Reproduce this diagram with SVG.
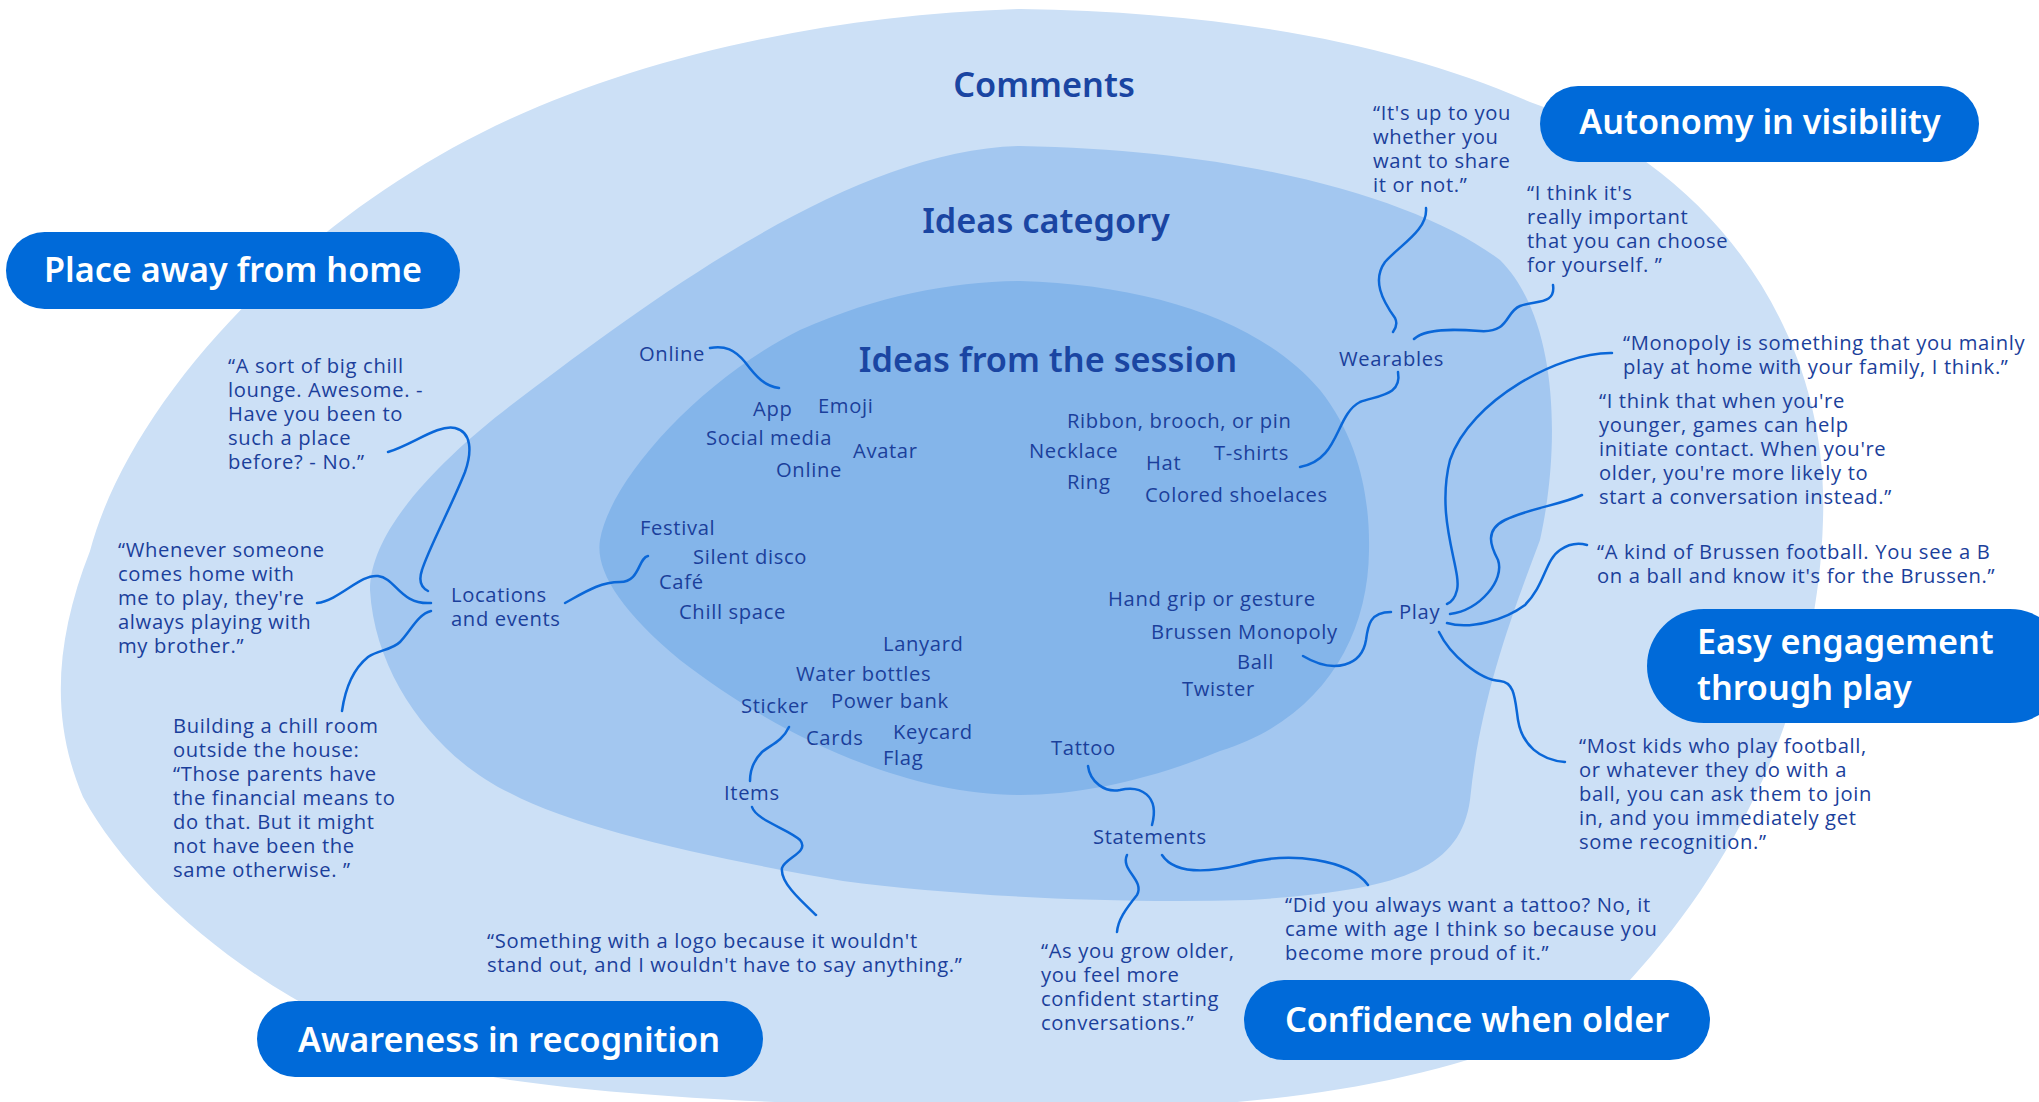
<svg xmlns="http://www.w3.org/2000/svg" width="2039" height="1102" viewBox="0 0 2039 1102">
<style>
.t{font-family:"Open Sans","Noto Sans","Liberation Sans",sans-serif;font-size:20.2px;letter-spacing:0.65px;fill:#1b3f9b}
.h{font-family:"Noto Sans","Open Sans","Liberation Sans",sans-serif;font-size:34.3px;font-weight:600;fill:#1a45a2;text-anchor:middle}
.pt{font-family:"Noto Sans","Open Sans","Liberation Sans",sans-serif;font-size:34.2px;font-weight:600;fill:#ffffff}
.pill{fill:#006ad9}
.c{fill:none;stroke:#0a67d8;stroke-width:2.5;stroke-linecap:round}
</style>
<rect width="2039" height="1102" fill="#ffffff"/>
<g id="zones">
<path id="zone-comments" fill="#cce0f6" d="M1020,9 C1230,12 1400,45 1530,102 C1700,160 1830,320 1823,520 C1818,700 1740,860 1630,980 C1520,1070 1300,1108 1100,1108 C850,1108 650,1100 510,1080 C330,1050 150,920 83,797 C50,720 55,640 90,551 C130,400 300,215 510,119 C650,55 830,15 1020,9 Z"/>
<path id="zone-category" fill="#a3c7f0" d="M1020,146 C1250,150 1420,200 1500,260 C1560,320 1560,450 1540,540 C1510,620 1480,700 1470,800 C1460,870 1400,890 1250,900 C1100,904 950,895 843,881 C720,860 580,830 510,793 C440,760 375,680 370,590 C370,530 440,460 510,406 C650,300 850,150 1020,146 Z"/>
<path id="zone-session" fill="#84b5ea" d="M1020,281 C1150,285 1260,320 1320,390 C1360,440 1370,500 1369,551 C1368,640 1320,720 1220,751 C1150,780 1080,795 1020,795 C900,795 770,730 680,660 C620,610 595,570 600,540 C610,480 700,380 800,330 C880,295 950,282 1020,281 Z"/>
</g>
<g id="titles">
<text class="h" x="1044" y="97">Comments</text>
<text class="h" x="1046" y="233">Ideas category</text>
<text class="h" x="1048" y="372">Ideas from the session</text>
</g>
<g id="connectors">
<path class="c" d="M388,452 C412,445 438,424 455,428 C472,432 472,452 465,472 C452,505 428,550 422,570 C418,582 422,588 428,591"/>
<path class="c" d="M317,603 C340,600 360,574 378,576 C396,578 400,605 431,603"/>
<path class="c" d="M431,611 C418,614 410,632 400,642 C392,650 378,650 368,657 C352,670 345,690 342,711"/>
<path class="c" d="M565,603 C585,592 600,582 620,582 C640,582 638,558 648,556"/>
<path class="c" d="M710,348 C725,345 735,350 745,362 C757,378 765,386 779,388"/>
<path class="c" d="M789,727 C782,742 770,745 762,752 C752,762 750,772 750,781"/>
<path class="c" d="M752,807 C756,820 790,830 800,840 C810,852 785,858 782,868 C780,882 800,900 816,915"/>
<path class="c" d="M1426,208 C1428,230 1400,245 1385,262 C1372,280 1382,300 1395,318 C1398,324 1396,328 1393,332"/>
<path class="c" d="M1414,339 C1425,328 1455,329 1480,331 C1510,333 1505,312 1520,306 C1535,300 1556,305 1553,285"/>
<path class="c" d="M1398,372 C1402,395 1380,395 1360,402 C1335,415 1340,460 1300,467"/>
<path class="c" d="M1612,353 C1560,352 1470,400 1450,460 C1435,520 1462,570 1457,590 C1455,598 1452,602 1447,604"/>
<path class="c" d="M1582,495 C1560,505 1530,508 1505,520 C1485,530 1490,545 1498,560 C1505,580 1480,610 1450,614"/>
<path class="c" d="M1447,623 C1470,630 1505,620 1525,605 C1545,585 1545,560 1560,550 C1570,543 1580,543 1587,545"/>
<path class="c" d="M1439,632 C1450,655 1480,680 1500,681 C1515,682 1515,700 1518,720 C1522,745 1540,760 1565,762"/>
<path class="c" d="M1391,612 C1370,612 1368,625 1366,640 C1362,665 1335,675 1303,656"/>
<path class="c" d="M1088,766 C1090,782 1105,793 1120,790 C1140,785 1160,795 1152,825"/>
<path class="c" d="M1127,855 C1120,870 1145,880 1137,895 C1125,910 1118,920 1117,932"/>
<path class="c" d="M1162,855 C1175,875 1210,872 1240,865 C1290,850 1350,860 1368,885"/>
</g>
<g id="pill-place"><rect class="pill" x="6" y="232" width="454" height="77" rx="38.5"/><text class="pt" x="233" y="282" text-anchor="middle">Place away from home</text></g>
<g id="pill-autonomy"><rect class="pill" x="1540" y="86" width="439" height="76" rx="38"/><text class="pt" x="1760" y="134" text-anchor="middle">Autonomy in visibility</text></g>
<g id="pill-easy"><rect class="pill" x="1647" y="609" width="420" height="114" rx="57"/><text class="pt" x="1697" y="654">Easy engagement</text><text class="pt" x="1697" y="700">through play</text></g>
<g id="pill-awareness"><rect class="pill" x="257" y="1001" width="506" height="76" rx="38"/><text class="pt" x="509" y="1052" text-anchor="middle">Awareness in recognition</text></g>
<g id="pill-confidence"><rect class="pill" x="1244" y="980" width="466" height="80" rx="40"/><text class="pt" x="1477" y="1032" text-anchor="middle">Confidence when older</text></g>
<g id="q-chill"><text class="t" x="228" y="373">“A sort of big chill<tspan x="228" y="397">lounge. Awesome. -</tspan><tspan x="228" y="421">Have you been to</tspan><tspan x="228" y="445">such a place</tspan><tspan x="228" y="469">before? - No.”</tspan></text></g>
<g id="q-whenever"><text class="t" x="118" y="557">“Whenever someone<tspan x="118" y="581">comes home with</tspan><tspan x="118" y="605">me to play, they're</tspan><tspan x="118" y="629">always playing with</tspan><tspan x="118" y="653">my brother.”</tspan></text></g>
<g id="q-building"><text class="t" x="173" y="733">Building a chill room<tspan x="173" y="757">outside the house:</tspan><tspan x="173" y="781">“Those parents have</tspan><tspan x="173" y="805">the financial means to</tspan><tspan x="173" y="829">do that. But it might</tspan><tspan x="173" y="853">not have been the</tspan><tspan x="173" y="877">same otherwise. ”</tspan></text></g>
<g id="n-locations"><text class="t" x="451" y="602">Locations<tspan x="451" y="626">and events</tspan></text></g>
<g id="n-online-top"><text class="t" x="639" y="361">Online</text></g>
<g id="n-app"><text class="t" x="753" y="416">App</text></g>
<g id="n-emoji"><text class="t" x="818" y="413">Emoji</text></g>
<g id="n-social"><text class="t" x="706" y="445">Social media</text></g>
<g id="n-avatar"><text class="t" x="853" y="458">Avatar</text></g>
<g id="n-online"><text class="t" x="776" y="477">Online</text></g>
<g id="n-festival"><text class="t" x="640" y="535">Festival</text></g>
<g id="n-silent"><text class="t" x="693" y="564">Silent disco</text></g>
<g id="n-cafe"><text class="t" x="659" y="589">Café</text></g>
<g id="n-chill"><text class="t" x="679" y="619">Chill space</text></g>
<g id="n-lanyard"><text class="t" x="883" y="651">Lanyard</text></g>
<g id="n-water"><text class="t" x="796" y="681">Water bottles</text></g>
<g id="n-sticker"><text class="t" x="741" y="713">Sticker</text></g>
<g id="n-power"><text class="t" x="831" y="708">Power bank</text></g>
<g id="n-cards"><text class="t" x="806" y="745">Cards</text></g>
<g id="n-keycard"><text class="t" x="893" y="739">Keycard</text></g>
<g id="n-flag"><text class="t" x="883" y="765">Flag</text></g>
<g id="n-items"><text class="t" x="724" y="800">Items</text></g>
<g id="q-something"><text class="t" x="487" y="948">“Something with a logo because it wouldn't<tspan x="487" y="972">stand out, and I wouldn't have to say anything.”</tspan></text></g>
<g id="q-itsup"><text class="t" x="1373" y="120">“It's up to you<tspan x="1373" y="144">whether you</tspan><tspan x="1373" y="168">want to share</tspan><tspan x="1373" y="192">it or not.”</tspan></text></g>
<g id="q-ithinkits"><text class="t" x="1527" y="200">“I think it's<tspan x="1527" y="224">really important</tspan><tspan x="1527" y="248">that you can choose</tspan><tspan x="1527" y="272">for yourself. ”</tspan></text></g>
<g id="n-wearables"><text class="t" x="1339" y="366">Wearables</text></g>
<g id="n-ribbon"><text class="t" x="1067" y="428">Ribbon, brooch, or pin</text></g>
<g id="n-necklace"><text class="t" x="1029" y="458">Necklace</text></g>
<g id="n-hat"><text class="t" x="1146" y="470">Hat</text></g>
<g id="n-tshirts"><text class="t" x="1214" y="460">T-shirts</text></g>
<g id="n-ring"><text class="t" x="1067" y="489">Ring</text></g>
<g id="n-shoelaces"><text class="t" x="1145" y="502">Colored shoelaces</text></g>
<g id="q-monopoly"><text class="t" x="1623" y="350">“Monopoly is something that you mainly<tspan x="1623" y="374">play at home with your family, I think.”</tspan></text></g>
<g id="q-younger"><text class="t" x="1599" y="408">“I think that when you're<tspan x="1599" y="432">younger, games can help</tspan><tspan x="1599" y="456">initiate contact. When you're</tspan><tspan x="1599" y="480">older, you're more likely to</tspan><tspan x="1599" y="504">start a conversation instead.”</tspan></text></g>
<g id="q-brussen"><text class="t" x="1597" y="559">“A kind of Brussen football. You see a B<tspan x="1597" y="583">on a ball and know it's for the Brussen.”</tspan></text></g>
<g id="n-play"><text class="t" x="1399" y="619">Play</text></g>
<g id="n-handgrip"><text class="t" x="1108" y="606">Hand grip or gesture</text></g>
<g id="n-monopoly"><text class="t" x="1151" y="639">Brussen Monopoly</text></g>
<g id="n-ball"><text class="t" x="1237" y="669">Ball</text></g>
<g id="n-twister"><text class="t" x="1182" y="696">Twister</text></g>
<g id="q-mostkids"><text class="t" x="1579" y="753">“Most kids who play football,<tspan x="1579" y="777">or whatever they do with a</tspan><tspan x="1579" y="801">ball, you can ask them to join</tspan><tspan x="1579" y="825">in, and you immediately get</tspan><tspan x="1579" y="849">some recognition.”</tspan></text></g>
<g id="n-tattoo"><text class="t" x="1051" y="755">Tattoo</text></g>
<g id="n-statements"><text class="t" x="1093" y="844">Statements</text></g>
<g id="q-asyou"><text class="t" x="1041" y="958">“As you grow older,<tspan x="1041" y="982">you feel more</tspan><tspan x="1041" y="1006">confident starting</tspan><tspan x="1041" y="1030">conversations.”</tspan></text></g>
<g id="q-didyou"><text class="t" x="1285" y="912">“Did you always want a tattoo? No, it<tspan x="1285" y="936">came with age I think so because you</tspan><tspan x="1285" y="960">become more proud of it.”</tspan></text></g>
</svg>
